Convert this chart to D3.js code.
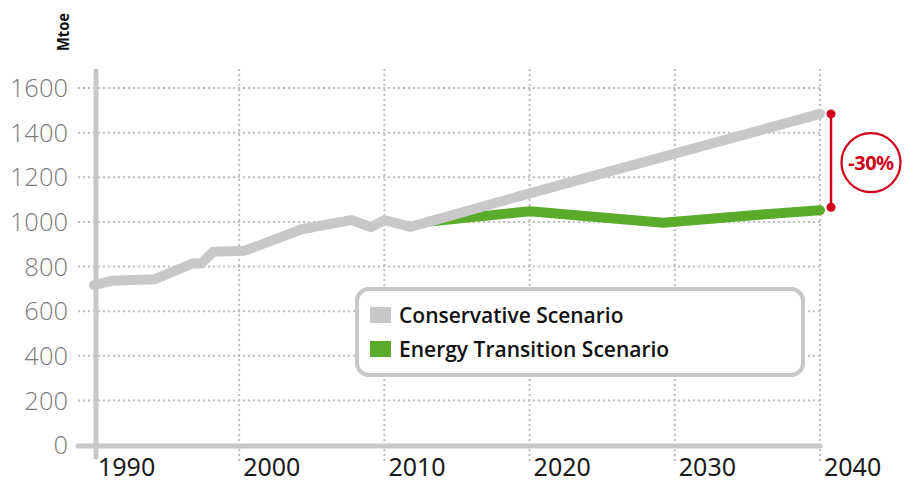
<!DOCTYPE html>
<html>
<head>
<meta charset="utf-8">
<script src="https://cdn.jsdelivr.net/npm/d3@7"></script>
<style>
  body { margin: 0; background: #fff; }
  svg { display: block; font-family: "Noto Sans", "Open Sans", sans-serif; }
</style>
</head>
<body>
<div id="chart"></div>
<script>
// conservative scenario (Mtoe), history + projection
var consYears = [1990, 1991.2, 1994.2, 1996.8, 1997.4, 1998.2, 2000.4, 2004.3, 2007.7, 2009.1, 2010, 2011.8, 2013.1, 2020, 2030, 2040];
var consValues = [717, 736, 743, 814, 814, 866, 871, 967, 1008, 976, 1008, 978, 1001, 1128, 1306, 1484];

// energy transition scenario
var transYears = [2013.1, 2020, 2029.2, 2035.6, 2040];
var transValues = [1001, 1048, 996, 1031, 1052];

var yTicks = [0, 200, 400, 600, 800, 1000, 1200, 1400, 1600];
var xTicks = [1990, 2000, 2010, 2020, 2030, 2040];
var seriesNames = ['Conservative Scenario', 'Energy Transition Scenario'];
var seriesColors = ['#c8c8ca', '#5aaa2b'];
var deltaLabel = '-30%';
var unitLabel = 'Mtoe';

var width = 906, height = 483;
var red = '#d0021b';
var gridColor = '#bdbdbd';

var x = d3.scaleLinear().domain([1990, 2040]).range([94, 820]);
var y = d3.scaleLinear().domain([0, 1600]).range([445, 88]);

var svg = d3.select('#chart').append('svg')
    .attr('width', width)
    .attr('height', height);

// horizontal dotted grid
svg.append('g').selectAll('line')
    .data(yTicks.slice(1))
    .enter().append('line')
    .attr('x1', 78)
    .attr('x2', x(2040))
    .attr('y1', function(d) { return y(d); })
    .attr('y2', function(d) { return y(d); })
    .style('stroke', gridColor)
    .style('stroke-width', 2)
    .style('stroke-dasharray', '2 3');

// vertical dotted grid
svg.append('g').selectAll('line')
    .data(xTicks.slice(1))
    .enter().append('line')
    .attr('x1', function(d) { return x(d); })
    .attr('x2', function(d) { return x(d); })
    .attr('y1', 69)
    .attr('y2', 461)
    .style('stroke', gridColor)
    .style('stroke-width', 2)
    .style('stroke-dasharray', '2 3');

// y tick labels
svg.append('g').selectAll('text')
    .data(yTicks)
    .enter().append('text')
    .attr('x', 68)
    .attr('y', function(d) { return y(d); })
    .attr('dy', '0.36em')
    .attr('text-anchor', 'end')
    .style('font-family', '"Open Sans", "Noto Sans", sans-serif')
    .style('font-size', '25.5px')
    .style('font-weight', 300)
    .style('fill', '#7a7a7a')
    .text(function(d) { return d; });

// x tick labels, left aligned just right of the gridline
svg.append('g').selectAll('text')
    .data(xTicks)
    .enter().append('text')
    .attr('x', function(d) { return x(d) + 4; })
    .attr('y', 476)
    .style('font-size', '25px')
    .style('fill', '#1a1a1a')
    .text(function(d) { return d; });

// unit label
svg.append('text')
    .attr('transform', 'translate(69,32) rotate(-90)')
    .attr('text-anchor', 'middle')
    .attr('textLength', 38)
    .attr('lengthAdjust', 'spacingAndGlyphs')
    .style('font-size', '16px')
    .style('font-weight', 700)
    .style('fill', '#111')
    .text(unitLabel);

// axes (thick grey bars)
svg.append('line')
    .attr('x1', 78).attr('x2', x(2040))
    .attr('y1', 446).attr('y2', 446)
    .style('stroke', '#c8c8ca')
    .style('stroke-width', 5)
    .style('stroke-linecap', 'round');

svg.append('line')
    .attr('x1', 96).attr('x2', 96)
    .attr('y1', 71).attr('y2', 457)
    .style('stroke', '#c8c8ca')
    .style('stroke-width', 5)
    .style('stroke-linecap', 'round');

var line = d3.line()
    .x(function(d) { return x(d[0]); })
    .y(function(d) { return y(d[1]); });

var transData = d3.zip(transYears, transValues);
var consData = d3.zip(consYears, consValues);

svg.append('path')
    .datum(transData)
    .attr('d', line)
    .style('fill', 'none')
    .style('stroke', seriesColors[1])
    .style('stroke-width', 10)
    .style('stroke-linecap', 'round')
    .style('stroke-linejoin', 'round');

svg.append('path')
    .datum(consData)
    .attr('d', line)
    .style('fill', 'none')
    .style('stroke', seriesColors[0])
    .style('stroke-width', 10)
    .style('stroke-linecap', 'round')
    .style('stroke-linejoin', 'round');

// -30% annotation
var topY = y(consValues[consValues.length - 1]);
var botY = y(transValues[transValues.length - 1]) - 3;
var annX = 831;

svg.append('line')
    .attr('x1', annX).attr('x2', annX)
    .attr('y1', topY).attr('y2', botY)
    .style('stroke', red)
    .style('stroke-width', 2.5);

svg.selectAll('circle.end')
    .data([topY, botY])
    .enter().append('circle')
    .attr('class', 'end')
    .attr('cx', annX)
    .attr('cy', function(d) { return d; })
    .attr('r', 4.5)
    .style('fill', red);

var midY = (topY + botY) / 2 + 2;
svg.append('circle')
    .attr('cx', 871)
    .attr('cy', midY)
    .attr('r', 29.5)
    .style('fill', '#fff')
    .style('stroke', red)
    .style('stroke-width', 2.2);

svg.append('text')
    .attr('x', 871)
    .attr('y', midY)
    .attr('dy', '0.36em')
    .attr('text-anchor', 'middle')
    .style('font-size', '20px')
    .style('font-weight', 700)
    .style('letter-spacing', '-0.5px')
    .style('fill', red)
    .text(deltaLabel);

// legend
var legend = svg.append('g');
legend.append('rect')
    .attr('x', 357).attr('y', 289)
    .attr('width', 446).attr('height', 86)
    .attr('rx', 12)
    .style('fill', '#fff')
    .style('stroke', '#c8c8ca')
    .style('stroke-width', 4);

var items = legend.selectAll('g.item')
    .data(seriesNames)
    .enter().append('g')
    .attr('class', 'item')
    .attr('transform', function(d, i) { return 'translate(370,' + (307 + i * 34) + ')'; });

items.append('rect')
    .attr('width', 21).attr('height', 16)
    .style('fill', function(d, i) { return seriesColors[i]; });

items.append('text')
    .attr('x', 29)
    .attr('y', 8)
    .attr('dy', '0.36em')
    .style('font-family', '"Open Sans", "Noto Sans", sans-serif')
    .style('font-size', '21px')
    .style('font-weight', 600)
    .style('fill', '#111')
    .text(function(d) { return d; });
</script>
</body>
</html>
